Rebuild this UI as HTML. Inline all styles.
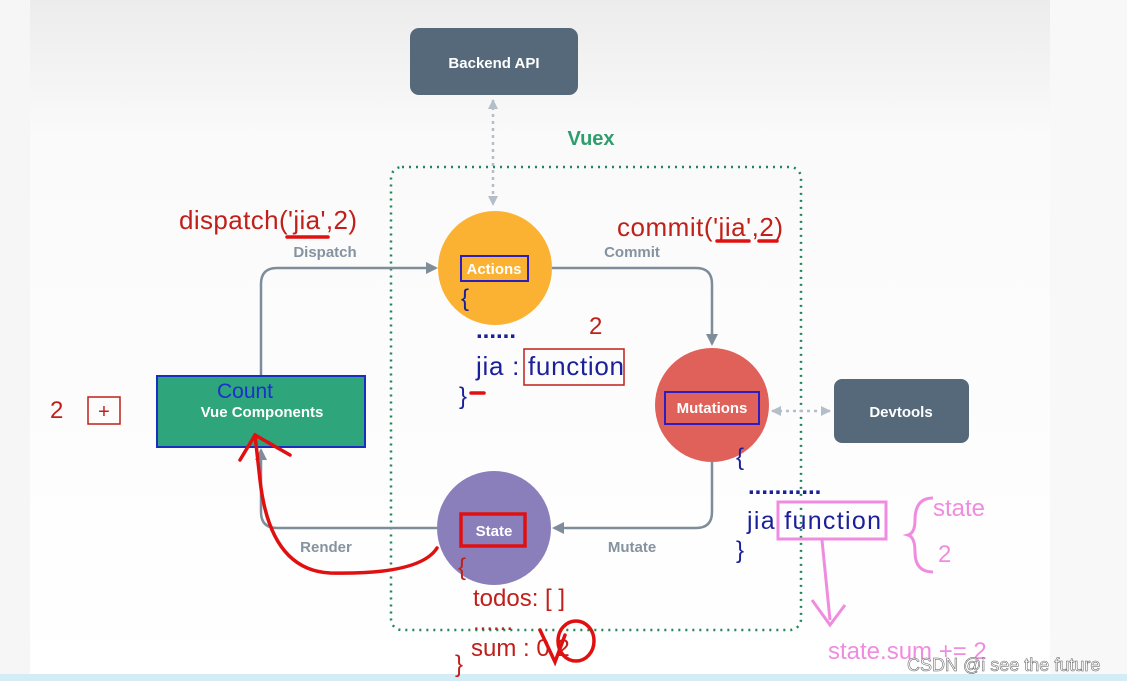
<!DOCTYPE html>
<html><head><meta charset="utf-8"><style>
html,body{margin:0;padding:0;width:1127px;height:681px;overflow:hidden;background:#fff}
svg{display:block}
text{font-family:"Liberation Sans",sans-serif}
.b{font-weight:bold}
</style></head><body>
<svg width="1127" height="681" viewBox="0 0 1127 681">
<defs>
<linearGradient id="bg" x1="0" y1="0" x2="0" y2="1">
<stop offset="0" stop-color="#ececec"/><stop offset="0.2" stop-color="#fafafa"/><stop offset="1" stop-color="#fff"/>
</linearGradient>
<marker id="ar" markerWidth="12" markerHeight="12" refX="10" refY="6" orient="auto" markerUnits="userSpaceOnUse"><path d="M0,0 L12,6 L0,12 z" fill="#7f8d9b"/></marker>
<marker id="ad" markerWidth="10" markerHeight="10" refX="9" refY="5" orient="auto-start-reverse" markerUnits="userSpaceOnUse"><path d="M0,0 L10,5 L0,10 z" fill="#b3bec8"/></marker>
</defs>
<rect width="1127" height="681" fill="url(#bg)"/>
<rect x="0" y="0" width="30" height="681" fill="#f6f6f6"/>
<rect x="1050" y="0" width="77" height="681" fill="#f8f8f8"/>
<rect x="0" y="674" width="1127" height="7" fill="#d4ecf6"/>

<rect x="410" y="28" width="168" height="67" rx="9" fill="#55697b"/>
<text x="494" y="68" fill="#fff" font-size="15" class="b" text-anchor="middle">Backend API</text>
<line x1="493" y1="100" x2="493" y2="205" stroke="#b3bec8" stroke-width="2.5" stroke-dasharray="3,4" marker-start="url(#ad)" marker-end="url(#ad)"/>
<text x="591" y="145" fill="#2e9e6c" font-size="20" class="b" text-anchor="middle">Vuex</text>
<rect x="391" y="167" width="410" height="463" rx="11" fill="none" stroke="#22865a" stroke-width="2.5" stroke-dasharray="2,5"/>

<g fill="none" stroke="#7f8d9b" stroke-width="2.5">
<path d="M261,376 V284 Q261,268 277,268 H436" marker-end="url(#ar)"/>
<path d="M552,268 H696 Q712,268 712,284 V344" marker-end="url(#ar)"/>
<path d="M712,462 V512 Q712,528 696,528 H554" marker-end="url(#ar)"/>
<path d="M437,528 H277 Q261,528 261,512 V450" marker-end="url(#ar)"/>
</g>
<line x1="772" y1="411" x2="830" y2="411" stroke="#b3bec8" stroke-width="2.5" stroke-dasharray="3,4" marker-start="url(#ad)" marker-end="url(#ad)"/>
<g fill="#8592a0" font-size="15" class="b" text-anchor="middle">
<text x="325" y="257">Dispatch</text><text x="632" y="257">Commit</text>
<text x="632" y="552">Mutate</text><text x="326" y="552">Render</text>
</g>

<circle cx="495" cy="268" r="57" fill="#fbb232"/>
<circle cx="712" cy="405" r="57" fill="#e0615a"/>
<circle cx="494" cy="528" r="57" fill="#8b7fbb"/>
<rect x="157" y="376" width="208" height="71" fill="#2ea57b" stroke="#1a2fbf" stroke-width="2"/>
<text x="245" y="398" fill="#1a2fd0" font-size="21" text-anchor="middle">Count</text>
<text x="262" y="417" fill="#fff" font-size="15" class="b" text-anchor="middle">Vue Components</text>
<rect x="834" y="379" width="135" height="64" rx="8" fill="#55697b"/>
<text x="901" y="417" fill="#fff" font-size="15" class="b" text-anchor="middle">Devtools</text>

<rect x="461" y="256" width="67" height="25" fill="none" stroke="#2a1fc0" stroke-width="2"/>
<text x="494" y="274" fill="#fff" font-size="15" class="b" text-anchor="middle">Actions</text>
<rect x="665" y="392" width="94" height="32" fill="none" stroke="#2a1fc0" stroke-width="2"/>
<text x="712" y="413" fill="#fff" font-size="15" class="b" text-anchor="middle">Mutations</text>
<rect x="461" y="514" width="64" height="32" fill="none" stroke="#e01010" stroke-width="3.5"/>
<text x="494" y="536" fill="#fff" font-size="15" class="b" text-anchor="middle">State</text>

<g font-size="24">
<text x="179" y="229" fill="#c0201a" font-size="26" textLength="178">dispatch('jia',2)</text>
<text x="617" y="236" fill="#c0201a" font-size="26" textLength="166">commit('jia',2)</text>
<text x="589" y="334" fill="#c0201a">2</text>
<text x="50" y="418" fill="#c0201a">2</text>
<text x="461" y="306" fill="#1a1f9a">{</text>
<text x="476" y="338" fill="#1a1f9a" class="b">......</text>
<text x="476" y="375" fill="#1a1f9a" font-size="26" textLength="148">jia : function</text>
<text x="459" y="404" fill="#1a1f9a">}</text>
<text x="736" y="465" fill="#1a1f9a">{</text>
<text x="748" y="494" fill="#1a1f9a" class="b">...........</text>
<text x="747" y="529" fill="#1a1f9a" font-size="25" textLength="134">jia function</text>
<text x="736" y="558" fill="#1a1f9a">}</text>
<text x="458" y="575" fill="#c0201a">{</text>
<text x="473" y="606" fill="#c0201a">todos: [ ]</text>
<text x="473" y="630" fill="#c0201a">......</text>
<text x="471" y="656" fill="#c0201a">sum : 0 2</text>
<text x="455" y="672" fill="#c0201a">}</text>
<text x="933" y="516" fill="#f08ce0">state</text>
<text x="938" y="562" fill="#f08ce0">2</text>
<text x="828" y="659" fill="#f08ce0">state.sum += 2</text>
</g>
<text x="907" y="671" fill="#fff" stroke="#555" stroke-width="0.5" font-size="18">CSDN @i see the future</text>
<rect x="88" y="397" width="32" height="27" fill="none" stroke="#c0201a" stroke-width="1.5"/>
<text x="104" y="418" fill="#c0201a" font-size="20" text-anchor="middle">+</text>
<rect x="524" y="349" width="100" height="36" fill="none" stroke="#c0201a" stroke-width="1.5"/>
<rect x="778" y="502" width="108" height="37" fill="none" stroke="#f08ce0" stroke-width="3"/>
<g fill="none" stroke="#e01010" stroke-width="3.5" stroke-linecap="round">
<path d="M287,237 H328"/><path d="M471,393 H484"/><path d="M717,241 H749"/><path d="M759,241 H777"/>
<path d="M437,548 Q420,575 330,573 Q270,570 260,480 L255,435 M240,460 L255,435 L290,455"/>
<ellipse cx="576" cy="641" rx="18" ry="20"/><path d="M540,630 L555,662 L565,635"/>
</g>
<path d="M933,498 Q915,498 915,520 Q915,533 908,535 Q915,537 915,552 Q915,572 933,572" fill="none" stroke="#f08ce0" stroke-width="3"/>
<path d="M822,540 Q826,580 830,620 M812,600 L830,625 L845,605" fill="none" stroke="#f08ce0" stroke-width="3"/>
</svg>
</body></html>
